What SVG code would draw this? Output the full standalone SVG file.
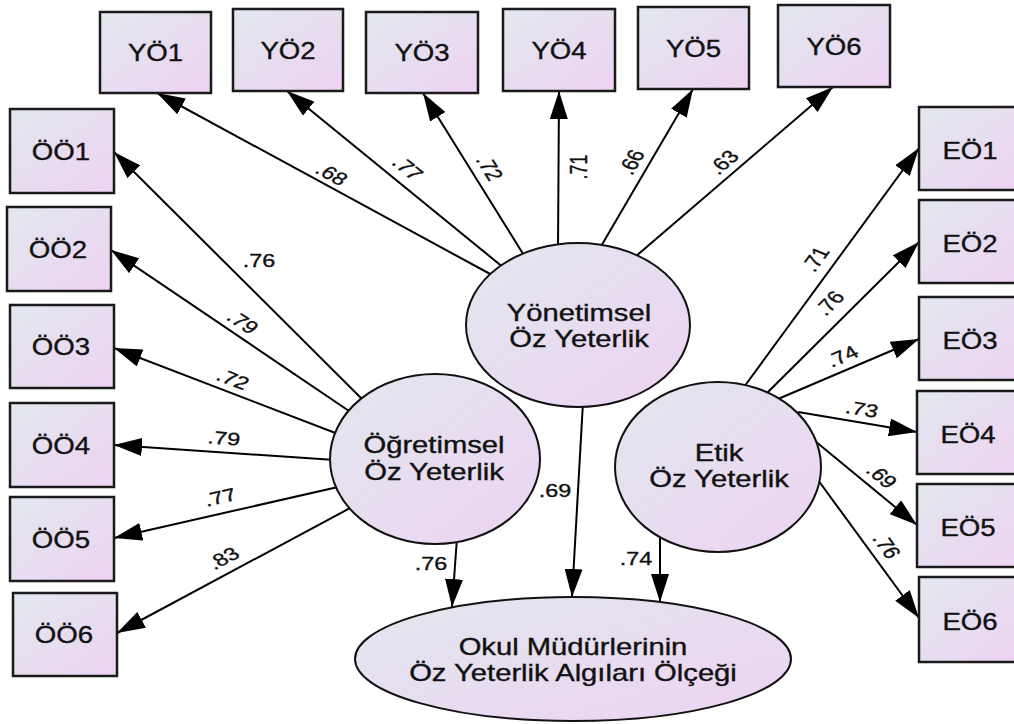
<svg xmlns="http://www.w3.org/2000/svg" width="1014" height="724" viewBox="0 0 1014 724">
<style>
.box{stroke:#1a1a1a;stroke-width:2.5;fill:url(#gr)}
.ell{stroke:#111;stroke-width:2;fill:url(#gr)}
.con{stroke:#000;stroke-width:2;fill:none;marker-end:url(#ah)}
text{font-family:"Liberation Sans",Arial,sans-serif;fill:#111;stroke:#111;stroke-width:0.35;text-anchor:middle}
.bt{font-size:24px}
.et{font-size:23px}
.lb{font-size:18px}
</style>
<defs>
<linearGradient id="gr" x1="0" y1="0" x2="1" y2="1">
<stop offset="0" stop-color="#e2e7ee"/>
<stop offset="1" stop-color="#edd3f2"/>
</linearGradient>
<marker id="ah" viewBox="0 0 28 18" refX="28" refY="9" markerWidth="28" markerHeight="18" markerUnits="userSpaceOnUse" orient="auto">
<path d="M0,0 L28,9 L0,18 z" fill="#000"/>
</marker>
</defs>
<g id="connectors">
<line class="con" x1="492" y1="275" x2="157" y2="93"/>
<line class="con" x1="504" y1="268" x2="287" y2="91"/>
<line class="con" x1="525" y1="257" x2="423" y2="93"/>
<line class="con" x1="558" y1="248" x2="559" y2="91"/>
<line class="con" x1="600" y1="248" x2="693" y2="89"/>
<line class="con" x1="635" y1="257" x2="833" y2="87"/>
<line class="con" x1="365" y1="402" x2="114" y2="152"/>
<line class="con" x1="352" y1="413" x2="111" y2="250"/>
<line class="con" x1="338" y1="434" x2="114" y2="348"/>
<line class="con" x1="335" y1="460" x2="114" y2="445"/>
<line class="con" x1="338" y1="487" x2="114" y2="538"/>
<line class="con" x1="352" y1="507" x2="117" y2="633"/>
<line class="con" x1="744" y1="387" x2="919" y2="148"/>
<line class="con" x1="766" y1="394" x2="919" y2="242"/>
<line class="con" x1="778" y1="399" x2="919" y2="339"/>
<line class="con" x1="798" y1="412" x2="917" y2="432"/>
<line class="con" x1="815" y1="441" x2="917" y2="525"/>
<line class="con" x1="818" y1="480" x2="919" y2="618"/>
<line class="con" x1="457" y1="538" x2="452" y2="607"/>
<line class="con" x1="583" y1="402" x2="572" y2="597"/>
<line class="con" x1="660" y1="533" x2="660" y2="602"/>
</g>
<g id="labels" class="lb">
<text transform="translate(332,174) scale(1.3,1) rotate(35.2)" dy=".36em">.68</text>
<text transform="translate(408,168) scale(1.3,1) rotate(46.5)" dy=".36em">.77</text>
<text transform="translate(490,168) scale(1.3,1) rotate(64.3)" dy=".36em">.72</text>
<text transform="translate(579,167) scale(1.3,1) rotate(-90)" dy=".36em">.71</text>
<text transform="translate(631,162) scale(1.3,1) rotate(-65.8)" dy=".36em">.66</text>
<text transform="translate(723,162) scale(1.3,1) rotate(-48)" dy=".36em">.63</text>
<text transform="translate(259,261) scale(1.3,1)" dy=".36em">.76</text>
<text transform="translate(243,322) scale(1.3,1) rotate(40.6)" dy=".36em">.79</text>
<text transform="translate(233,379) scale(1.3,1) rotate(26.5)" dy=".36em">.72</text>
<text transform="translate(224,438) scale(1.3,1) rotate(5.2)" dy=".36em">.79</text>
<text transform="translate(220,497) scale(1.3,1) rotate(-16.6)" dy=".36em">.77</text>
<text transform="translate(223,558) scale(1.3,1) rotate(-34.6)" dy=".36em">.83</text>
<text transform="translate(815,259) scale(1.3,1) rotate(-60.8)" dy=".36em">.71</text>
<text transform="translate(829,303) scale(1.3,1) rotate(-52.4)" dy=".36em">.76</text>
<text transform="translate(842,356) scale(1.3,1) rotate(-28.9)" dy=".36em">.74</text>
<text transform="translate(862,409) scale(1.3,1) rotate(12.3)" dy=".36em">.73</text>
<text transform="translate(882,476) scale(1.3,1) rotate(47)" dy=".36em">.69</text>
<text transform="translate(887,546) scale(1.3,1) rotate(60.7)" dy=".36em">.76</text>
<text transform="translate(431,564) scale(1.3,1)" dy=".36em">.76</text>
<text transform="translate(555,491) scale(1.3,1)" dy=".36em">.69</text>
<text transform="translate(636,559) scale(1.3,1)" dy=".36em">.74</text>
</g>
<g id="YO1"><rect class="box" x="100" y="12" width="111" height="81"/><text class="bt" transform="translate(155.5,52.5) scale(1.15,1)" dy=".36em">YÖ1</text></g>
<g id="YO2"><rect class="box" x="233" y="9" width="110" height="82"/><text class="bt" transform="translate(288,50) scale(1.15,1)" dy=".36em">YÖ2</text></g>
<g id="YO3"><rect class="box" x="366" y="12" width="112" height="81"/><text class="bt" transform="translate(422,52.5) scale(1.15,1)" dy=".36em">YÖ3</text></g>
<g id="YO4"><rect class="box" x="503" y="9" width="112" height="82"/><text class="bt" transform="translate(559,50) scale(1.15,1)" dy=".36em">YÖ4</text></g>
<g id="YO5"><rect class="box" x="638" y="7" width="111" height="82"/><text class="bt" transform="translate(693.5,48) scale(1.15,1)" dy=".36em">YÖ5</text></g>
<g id="YO6"><rect class="box" x="778" y="5" width="112" height="82"/><text class="bt" transform="translate(834,46) scale(1.15,1)" dy=".36em">YÖ6</text></g>
<g id="OO1"><rect class="box" x="10" y="109" width="104" height="84"/><text class="bt" transform="translate(61,151) scale(1.15,1)" dy=".36em">ÖÖ1</text></g>
<g id="OO2"><rect class="box" x="7" y="207" width="104" height="84"/><text class="bt" transform="translate(58,249) scale(1.15,1)" dy=".36em">ÖÖ2</text></g>
<g id="OO3"><rect class="box" x="10" y="305" width="104" height="83"/><text class="bt" transform="translate(61,346.5) scale(1.15,1)" dy=".36em">ÖÖ3</text></g>
<g id="OO4"><rect class="box" x="10" y="403" width="104" height="84"/><text class="bt" transform="translate(61,445) scale(1.15,1)" dy=".36em">ÖÖ4</text></g>
<g id="OO5"><rect class="box" x="10" y="497" width="104" height="84"/><text class="bt" transform="translate(61,539) scale(1.15,1)" dy=".36em">ÖÖ5</text></g>
<g id="OO6"><rect class="box" x="13" y="593" width="104" height="83"/><text class="bt" transform="translate(64,634.5) scale(1.15,1)" dy=".36em">ÖÖ6</text></g>
<g id="EO1"><rect class="box" x="919" y="107" width="104" height="83"/><text class="bt" transform="translate(970,150) scale(1.15,1)" dy=".36em">EÖ1</text></g>
<g id="EO2"><rect class="box" x="919" y="200" width="104" height="83"/><text class="bt" transform="translate(970,243) scale(1.15,1)" dy=".36em">EÖ2</text></g>
<g id="EO3"><rect class="box" x="919" y="297" width="104" height="83"/><text class="bt" transform="translate(970,340) scale(1.15,1)" dy=".36em">EÖ3</text></g>
<g id="EO4"><rect class="box" x="917" y="391" width="104" height="83"/><text class="bt" transform="translate(968,434) scale(1.15,1)" dy=".36em">EÖ4</text></g>
<g id="EO5"><rect class="box" x="917" y="484" width="104" height="83"/><text class="bt" transform="translate(968,527) scale(1.15,1)" dy=".36em">EÖ5</text></g>
<g id="EO6"><rect class="box" x="919" y="577" width="104" height="85"/><text class="bt" transform="translate(970,621) scale(1.15,1)" dy=".36em">EÖ6</text></g>
<g id="yonetimsel"><ellipse class="ell" cx="578" cy="325" rx="112" ry="82"/>
<text class="et" transform="translate(579,321) scale(1.27,1)">Yönetimsel</text>
<text class="et" transform="translate(579,347) scale(1.27,1)">Öz Yeterlik</text></g>
<g id="ogretimsel"><ellipse class="ell" cx="435" cy="459" rx="105" ry="85"/>
<text class="et" transform="translate(434,453) scale(1.27,1)">Öğretimsel</text>
<text class="et" transform="translate(434,480) scale(1.27,1)">Öz Yeterlik</text></g>
<g id="etik"><ellipse class="ell" cx="718" cy="467" rx="103" ry="85"/>
<text class="et" transform="translate(719,461) scale(1.27,1)">Etik</text>
<text class="et" transform="translate(719,487) scale(1.27,1)">Öz Yeterlik</text></g>
<g id="olcek"><ellipse class="ell" cx="573" cy="659" rx="218" ry="62"/>
<text class="et" transform="translate(573,655) scale(1.27,1)">Okul Müdürlerinin</text>
<text class="et" transform="translate(573,681) scale(1.27,1)">Öz Yeterlik Algıları Ölçeği</text></g>
</svg>
